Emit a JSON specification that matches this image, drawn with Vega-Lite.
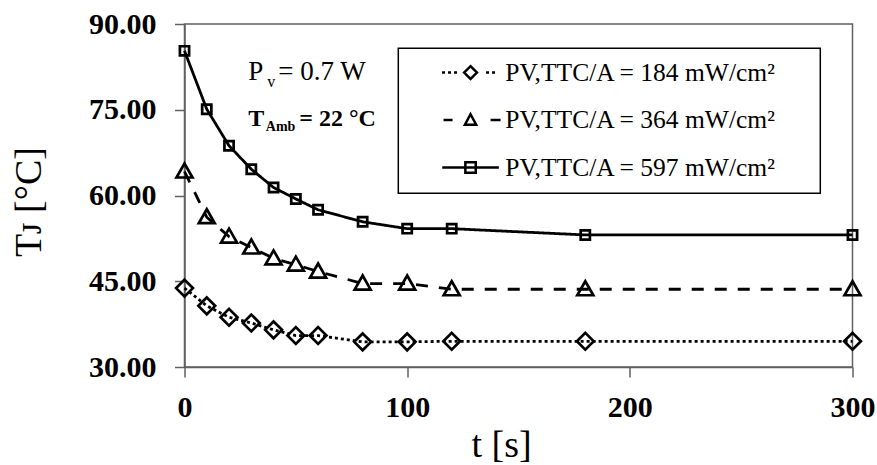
{
  "$schema": "https://vega.github.io/schema/vega-lite/v6.json",
  "width": 668,
  "height": 343,
  "autosize": "none",
  "padding": {"left": 184.5, "top": 24, "right": 24.5, "bottom": 98},
  "background": "white",
  "config": {
    "font": "Liberation Serif",
    "view": {"stroke": "#606060", "strokeWidth": 1.5},
    "axis": {
      "grid": false,
      "domainColor": "#606060",
      "domainWidth": 1.5,
      "tickColor": "#606060",
      "tickWidth": 1.5,
      "tickSize": 10,
      "labelFont": "Liberation Serif",
      "labelFontWeight": "bold",
      "labelFontSize": 30,
      "labelColor": "black",
      "titleFont": "Liberation Serif",
      "titleFontWeight": "normal",
      "titleFontSize": 38,
      "titleColor": "black",
      "labelFlush": false,
      "labelOverlap": false
    }
  },
  "data": {
    "values": [
      {"t": 0, "T": 43.8, "series": "PV,TTC/A = 184 mW/cm²"},
      {"t": 10, "T": 40.7, "series": "PV,TTC/A = 184 mW/cm²"},
      {"t": 20, "T": 38.7, "series": "PV,TTC/A = 184 mW/cm²"},
      {"t": 30, "T": 37.7, "series": "PV,TTC/A = 184 mW/cm²"},
      {"t": 40, "T": 36.5, "series": "PV,TTC/A = 184 mW/cm²"},
      {"t": 50, "T": 35.5, "series": "PV,TTC/A = 184 mW/cm²"},
      {"t": 60, "T": 35.5, "series": "PV,TTC/A = 184 mW/cm²"},
      {"t": 80, "T": 34.4, "series": "PV,TTC/A = 184 mW/cm²"},
      {"t": 100, "T": 34.4, "series": "PV,TTC/A = 184 mW/cm²"},
      {"t": 120, "T": 34.5, "series": "PV,TTC/A = 184 mW/cm²"},
      {"t": 180, "T": 34.5, "series": "PV,TTC/A = 184 mW/cm²"},
      {"t": 300, "T": 34.5, "series": "PV,TTC/A = 184 mW/cm²"},
      {"t": 0, "T": 64.2, "series": "PV,TTC/A = 364 mW/cm²"},
      {"t": 10, "T": 56.2, "series": "PV,TTC/A = 364 mW/cm²"},
      {"t": 20, "T": 52.8, "series": "PV,TTC/A = 364 mW/cm²"},
      {"t": 30, "T": 50.9, "series": "PV,TTC/A = 364 mW/cm²"},
      {"t": 40, "T": 49.0, "series": "PV,TTC/A = 364 mW/cm²"},
      {"t": 50, "T": 47.9, "series": "PV,TTC/A = 364 mW/cm²"},
      {"t": 60, "T": 46.7, "series": "PV,TTC/A = 364 mW/cm²"},
      {"t": 80, "T": 44.6, "series": "PV,TTC/A = 364 mW/cm²"},
      {"t": 100, "T": 44.6, "series": "PV,TTC/A = 364 mW/cm²"},
      {"t": 120, "T": 43.6, "series": "PV,TTC/A = 364 mW/cm²"},
      {"t": 180, "T": 43.6, "series": "PV,TTC/A = 364 mW/cm²"},
      {"t": 300, "T": 43.6, "series": "PV,TTC/A = 364 mW/cm²"},
      {"t": 0, "T": 85.3, "series": "PV,TTC/A = 597 mW/cm²"},
      {"t": 10, "T": 75.1, "series": "PV,TTC/A = 597 mW/cm²"},
      {"t": 20, "T": 68.7, "series": "PV,TTC/A = 597 mW/cm²"},
      {"t": 30, "T": 64.6, "series": "PV,TTC/A = 597 mW/cm²"},
      {"t": 40, "T": 61.4, "series": "PV,TTC/A = 597 mW/cm²"},
      {"t": 50, "T": 59.4, "series": "PV,TTC/A = 597 mW/cm²"},
      {"t": 60, "T": 57.5, "series": "PV,TTC/A = 597 mW/cm²"},
      {"t": 80, "T": 55.4, "series": "PV,TTC/A = 597 mW/cm²"},
      {"t": 100, "T": 54.2, "series": "PV,TTC/A = 597 mW/cm²"},
      {"t": 120, "T": 54.2, "series": "PV,TTC/A = 597 mW/cm²"},
      {"t": 180, "T": 53.1, "series": "PV,TTC/A = 597 mW/cm²"},
      {"t": 300, "T": 53.1, "series": "PV,TTC/A = 597 mW/cm²"}
    ]
  },
  "encoding": {
    "x": {
      "field": "t",
      "type": "quantitative",
      "scale": {"domain": [0, 300], "nice": false, "zero": false},
      "axis": {
        "values": [0, 100, 200, 300],
        "title": "t [s]",
        "labelPadding": 15,
        "titleX": 316.5,
        "titleY": 89,
        "titleAlign": "center",
        "titleBaseline": "alphabetic"
      }
    },
    "y": {
      "field": "T",
      "type": "quantitative",
      "scale": {"domain": [30, 90], "nice": false, "zero": false},
      "axis": {
        "values": [30, 45, 60, 75, 90],
        "format": ".2f",
        "title": "Tᴊ [°C]",
        "labelPadding": 18.5,
        "titleX": -144.5,
        "titleY": 177.5,
        "titleAngle": -90,
        "titleAlign": "center",
        "titleBaseline": "alphabetic"
      }
    }
  },
  "resolve": {"scale": {"shape": "independent"}, "legend": {"shape": "independent"}},
  "layer": [
    {
      "mark": {"type": "line", "color": "black", "strokeWidth": 2.8},
      "encoding": {
        "strokeDash": {
          "field": "series",
          "type": "nominal",
          "scale": {
            "domain": ["PV,TTC/A = 597 mW/cm²", "PV,TTC/A = 364 mW/cm²", "PV,TTC/A = 184 mW/cm²"],
            "range": [[1, 0], [12, 11], [3, 3]]
          },
          "legend": null
        }
      }
    },
    {
      "mark": {"type": "point", "filled": false, "color": "black", "strokeWidth": 2.7, "size": 64, "opacity": 1},
      "encoding": {
        "shape": {
          "field": "series",
          "type": "nominal",
          "scale": {
            "domain": ["PV,TTC/A = 184 mW/cm²", "PV,TTC/A = 364 mW/cm²", "PV,TTC/A = 597 mW/cm²"],
            "range": [
              "M0,-2.1L2.1,0L0,2.1L-2.1,0Z",
              "M0,-2L2,1.5L-2,1.5Z",
              "M-1.15,-1.15H1.15V1.15H-1.15Z"
            ]
          },
          "legend": null
        }
      }
    },
    {
      "transform": [{"filter": "false"}],
      "mark": {"type": "point", "filled": false, "color": "black", "strokeWidth": 2.5, "size": 64, "opacity": 1},
      "encoding": {
        "shape": {
          "field": "series",
          "type": "nominal",
          "scale": {
            "domain": ["PV,TTC/A = 184 mW/cm²", "PV,TTC/A = 364 mW/cm²", "PV,TTC/A = 597 mW/cm²"],
            "range": [
              "M-7.125,0h0.75M-5.625,0h0.75M-4.125,0h0.75M3.875,0h0.75M5.375,0h0.75M0,-1.6L1.6,0L0,1.6L-1.6,0ZM83.2,0",
              "M-6.75,0H-4.5M5,0H7.5M0,-1.45L1.4,1.15L-1.4,1.15ZM83.2,0",
              "M-7.08,0H7.08M-1.3,-1.3H1.3V1.3H-1.3ZM83.2,0"
            ]
          },
          "legend": {
            "orient": "none",
            "legendX": 213.8,
            "legendY": 24.3,
            "title": null,
            "symbolSize": 64,
            "symbolStrokeWidth": 2.5,
            "symbolStrokeColor": "black",
            "symbolOpacity": 1,
            "symbolOffset": 48,
            "labelFont": "Liberation Serif",
            "labelFontSize": 25.5,
            "labelColor": "black",
            "labelLimit": 600,
            "labelOffset": 22,
            "labelExpr": "datum.label + '\u00a0\u00a0\u00a0\u00a0\u00a0'",
            "rowPadding": 20.5,
            "padding": 11.5,
            "strokeColor": "#000000",
            "fillColor": "white",
            "encoding": {"legend": {"strokeWidth": {"value": 1.5}}}
          }
        }
      }
    },
    {
      "data": {"values": [{"t": 28.64, "T": 80.2}]},
      "mark": {"type": "text", "text": "P", "align": "left", "baseline": "alphabetic", "font": "Liberation Serif", "fontSize": 27, "color": "black"}
    },
    {
      "data": {"values": [{"t": 28.64, "T": 80.2}]},
      "mark": {"type": "text", "text": "v", "align": "left", "baseline": "alphabetic", "dx": 19, "dy": 7, "font": "Liberation Serif", "fontSize": 16, "color": "black"}
    },
    {
      "data": {"values": [{"t": 28.64, "T": 80.2}]},
      "mark": {"type": "text", "text": "= 0.7 W", "align": "left", "baseline": "alphabetic", "dx": 30, "font": "Liberation Serif", "fontSize": 27, "color": "black"}
    },
    {
      "data": {"values": [{"t": 28.64, "T": 72.2}]},
      "mark": {"type": "text", "text": "T", "align": "left", "baseline": "alphabetic", "font": "Liberation Serif", "fontWeight": "bold", "fontSize": 24, "color": "black"}
    },
    {
      "data": {"values": [{"t": 28.64, "T": 72.2}]},
      "mark": {"type": "text", "text": "Amb", "align": "left", "baseline": "alphabetic", "dx": 17.5, "dy": 5.5, "font": "Liberation Serif", "fontWeight": "bold", "fontSize": 14, "color": "black"}
    },
    {
      "data": {"values": [{"t": 28.64, "T": 72.2}]},
      "mark": {"type": "text", "text": "= 22 °C", "align": "left", "baseline": "alphabetic", "dx": 51, "font": "Liberation Serif", "fontWeight": "bold", "fontSize": 24, "color": "black"}
    }
  ]
}
